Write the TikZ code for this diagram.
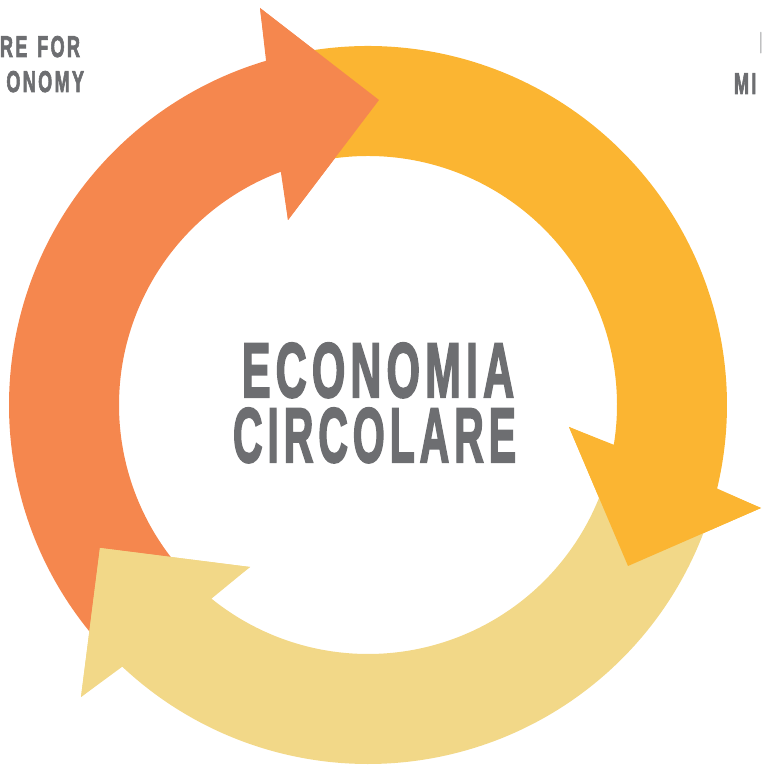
\documentclass[tikz,border=0pt]{standalone}
\usepackage{fontspec}
\setmainfont{Liberation Sans}
\newfontfamily\condfont[FakeBold=3]{Liberation Sans Bold}
\usetikzlibrary{calc}
\definecolor{cOrange}{RGB}{245,135,78}
\definecolor{cYellow}{RGB}{251,181,50}
\definecolor{cLight}{RGB}{242,216,136}
\definecolor{cGray}{RGB}{109,110,113}
\makeatletter
\newcommand{\spacedtext}[2]{\def\sp@first{1}\@tfor\sp@c:=#2\do{\ifx\sp@first\relax\hspace{#1}\fi\let\sp@first\relax\sp@c}}
\makeatother
\newcommand{\condlbl}[1]{\scalebox{0.6}[1]{\fontsize{30}{30}\condfont\spacedtext{4pt}{#1}}}
\newcommand{\titleline}[3]{\raisebox{0pt}[#2][0pt]{\resizebox{#1}{#2}{\condfont\spacedtext{1.2pt}{#3}}}}
\begin{document}
\begin{tikzpicture}[x=1pt,y=1pt,
  lbl/.style={inner sep=0pt, outer sep=0pt, text=cGray}]
\useasboundingbox (0,0) rectangle (761,765);
\clip (0,0) rectangle (761,765);
\coordinate (C) at (368,360);
\def\Ro{359pt}
\def\Ri{249pt}
% full arrows (band + head)
\fill[cOrange] ($(C)+(222:\Ro)$) arc[start angle=222, end angle=106.5, radius=\Ro]
  -- (260,757) -- (379,665) -- (288,545)
  -- ($(C)+(110.5:\Ri)$) arc[start angle=110.5, end angle=222, radius=\Ri] -- cycle;
\fill[cYellow] ($(C)+(100:\Ro)$) arc[start angle=100, end angle=-13.46, radius=\Ro]
  -- (761,257) -- (628,199) -- (569,338)
  -- ($(C)+(-9.2:\Ri)$) arc[start angle=-9.2, end angle=100, radius=\Ri] -- cycle;
\fill[cLight] ($(C)+(-20:\Ro)$) arc[start angle=-20, end angle=-133.2, radius=\Ro]
  -- (81,68) -- (100,217) -- (250,198)
  -- ($(C)+(-128.95:\Ri)$) arc[start angle=-128.95, end angle=-20, radius=\Ri] -- cycle;
% heads on top
\fill[cOrange] (260,757) -- (379,665) -- (288,545) -- cycle;
\fill[cYellow] (761,257) -- (628,199) -- (569,338) -- cycle;
\fill[cLight] (81,68) -- (100,217) -- (250,198) -- cycle;
% title
\node[lbl, anchor=south west] (t1) at (242,368) {\titleline{272pt}{54pt}{ECONOMIA}};
\node[lbl, anchor=south west] (t2) at (233,303) {\titleline{283pt}{54pt}{CIRCOLARE}};
% clipped corner labels
\node[lbl, anchor=base east] (l1) at (80,708) {\condlbl{RE~FOR}};
\node[lbl, anchor=base east] (l2) at (84,673) {\condlbl{ONOMY}};
\node[lbl, anchor=base west] (r1) at (759.6,712) {\condlbl{N}};
\node[lbl, anchor=base west] (r2) at (734,671) {\condlbl{MI}};
\end{tikzpicture}
\end{document}
